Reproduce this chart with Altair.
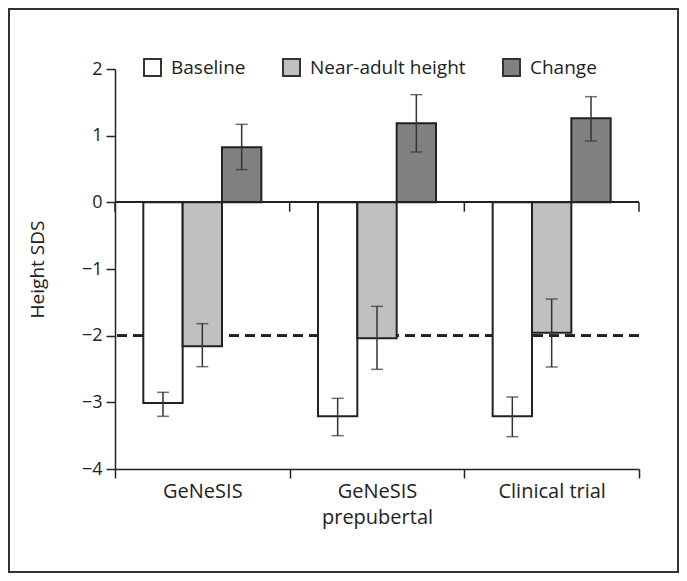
import altair as alt
import pandas as pd

groups = ["GeNeSIS", "GeNeSIS prepubertal", "Clinical trial"]
series = ["Baseline", "Near-adult height", "Change"]

baseline = [-3.01, -3.21, -3.21]
baseline_lo = [-3.21, -3.50, -3.515]
baseline_hi = [-2.85, -2.94, -2.92]

nah = [-2.16, -2.04, -1.955]
nah_lo = [-2.465, -2.505, -2.47]
nah_hi = [-1.82, -1.56, -1.45]

change = [0.825, 1.185, 1.26]
change_lo = [0.49, 0.755, 0.92]
change_hi = [1.17, 1.615, 1.585]

y_ticks = [-4, -3, -2, -1, 0, 1, 2]
reference_line = -2

rows = []
for vals, los, his, s in [
    (baseline, baseline_lo, baseline_hi, series[0]),
    (nah, nah_lo, nah_hi, series[1]),
    (change, change_lo, change_hi, series[2]),
]:
    for g, v, lo, hi in zip(groups, vals, los, his):
        rows.append({"group": g, "series": s, "value": v, "lo": lo, "hi": hi})
df = pd.DataFrame(rows)

FONT = "Open Sans"
INK = "#222222"

x_enc = alt.X(
    "group:N",
    sort=groups,
    title=None,
    scale=alt.Scale(paddingInner=0, paddingOuter=0),
    axis=alt.Axis(
        tickBand="extent",
        tickSize=9,
        labelAngle=0,
        labelFontSize=20,
        labelPadding=3,
        labelColor=INK,
        labelLineHeight=26,
        labelExpr="datum.label == 'GeNeSIS prepubertal' ? ['GeNeSIS', 'prepubertal'] : datum.label",
        domainColor=INK,
        domainWidth=1.5,
        tickColor=INK,
        tickWidth=1.5,
    ),
)
xoff = alt.XOffset(
    "series:N", sort=series, scale=alt.Scale(paddingInner=0, paddingOuter=0.72)
)
y_scale = alt.Scale(domain=[-4, 2], nice=False, zero=False)

base = alt.Chart(df)

dashed = base.mark_rule(
    color=INK, strokeWidth=2, strokeDash=[10, 6]
).encode(y=alt.datum(reference_line, scale=y_scale))

bars = base.mark_bar(stroke=INK, strokeWidth=2).encode(
    x=x_enc,
    xOffset=xoff,
    y=alt.Y(
        "value:Q",
        scale=y_scale,
        axis=alt.Axis(
            values=y_ticks,
            format="d",
            tickSize=9,
            labelFontSize=18,
            labelPadding=4,
            labelColor=INK,
            title="Height SDS",
            titleFontSize=19,
            titleFontWeight="normal",
            titleColor=INK,
            titlePadding=34,
            domainColor=INK,
            domainWidth=1.5,
            tickColor=INK,
            tickWidth=1.5,
            grid=False,
        ),
    ),
    fill=alt.Fill(
        "series:N",
        sort=series,
        scale=alt.Scale(domain=series, range=["#ffffff", "#bfc0c2", "#808183"]),
        legend=alt.Legend(
            title=None,
            orient="none",
            legendX=28,
            legendY=-11,
            direction="horizontal",
            symbolType="square",
            symbolSize=289,
            symbolStrokeColor="#333333",
            symbolStrokeWidth=2,
            labelFontSize=19,
            labelColor=INK,
            labelOffset=9,
            columnPadding=33,
            padding=0,
        ),
    ),
)

zero_line = base.mark_rule(color=INK, strokeWidth=1.5).encode(
    y=alt.datum(0, scale=y_scale)
)

tick_df = pd.DataFrame({"group": groups})
zero_ticks_left = alt.Chart(tick_df).mark_rule(color=INK, strokeWidth=1.5).encode(
    x=alt.X("group:N", sort=groups, bandPosition=0),
    y=alt.datum(0, scale=y_scale),
    y2=alt.datum(-0.14),
)
zero_tick_right = alt.Chart(pd.DataFrame({"group": [groups[-1]]})).mark_rule(
    color=INK, strokeWidth=1.5
).encode(
    x=alt.X("group:N", sort=groups, bandPosition=1),
    y=alt.datum(0, scale=y_scale),
    y2=alt.datum(-0.14),
)

err_rule = base.mark_rule(color="#333333", strokeWidth=1.5).encode(
    x=alt.X("group:N", sort=groups),
    xOffset=xoff,
    y=alt.Y("lo:Q", scale=y_scale),
    y2="hi:Q",
)
cap_lo = base.mark_tick(color="#333333", thickness=1.5, size=12).encode(
    x=alt.X("group:N", sort=groups),
    xOffset=xoff,
    y=alt.Y("lo:Q", scale=y_scale),
)
cap_hi = base.mark_tick(color="#333333", thickness=1.5, size=12).encode(
    x=alt.X("group:N", sort=groups),
    xOffset=xoff,
    y=alt.Y("hi:Q", scale=y_scale),
)

frame = alt.Chart(pd.DataFrame({"a": [0]})).mark_rect(
    fill=None, stroke="#333333", strokeWidth=2
).encode(
    x=alt.value(-106),
    x2=alt.value(563),
    y=alt.value(-60),
    y2=alt.value(503),
)

chart = (
    alt.layer(
        dashed, bars, zero_line, zero_ticks_left, zero_tick_right,
        err_rule, cap_lo, cap_hi, frame
    )
    .properties(
        width=524,
        height=400,
        padding={"left": 107, "top": 61, "right": 40, "bottom": 104},
        autosize=alt.AutoSizeParams(type="none"),
    )
    .configure(font=FONT)
    .configure_view(stroke=None)
)

chart.save("out.html", embed_options={"renderer": "svg", "actions": False})
